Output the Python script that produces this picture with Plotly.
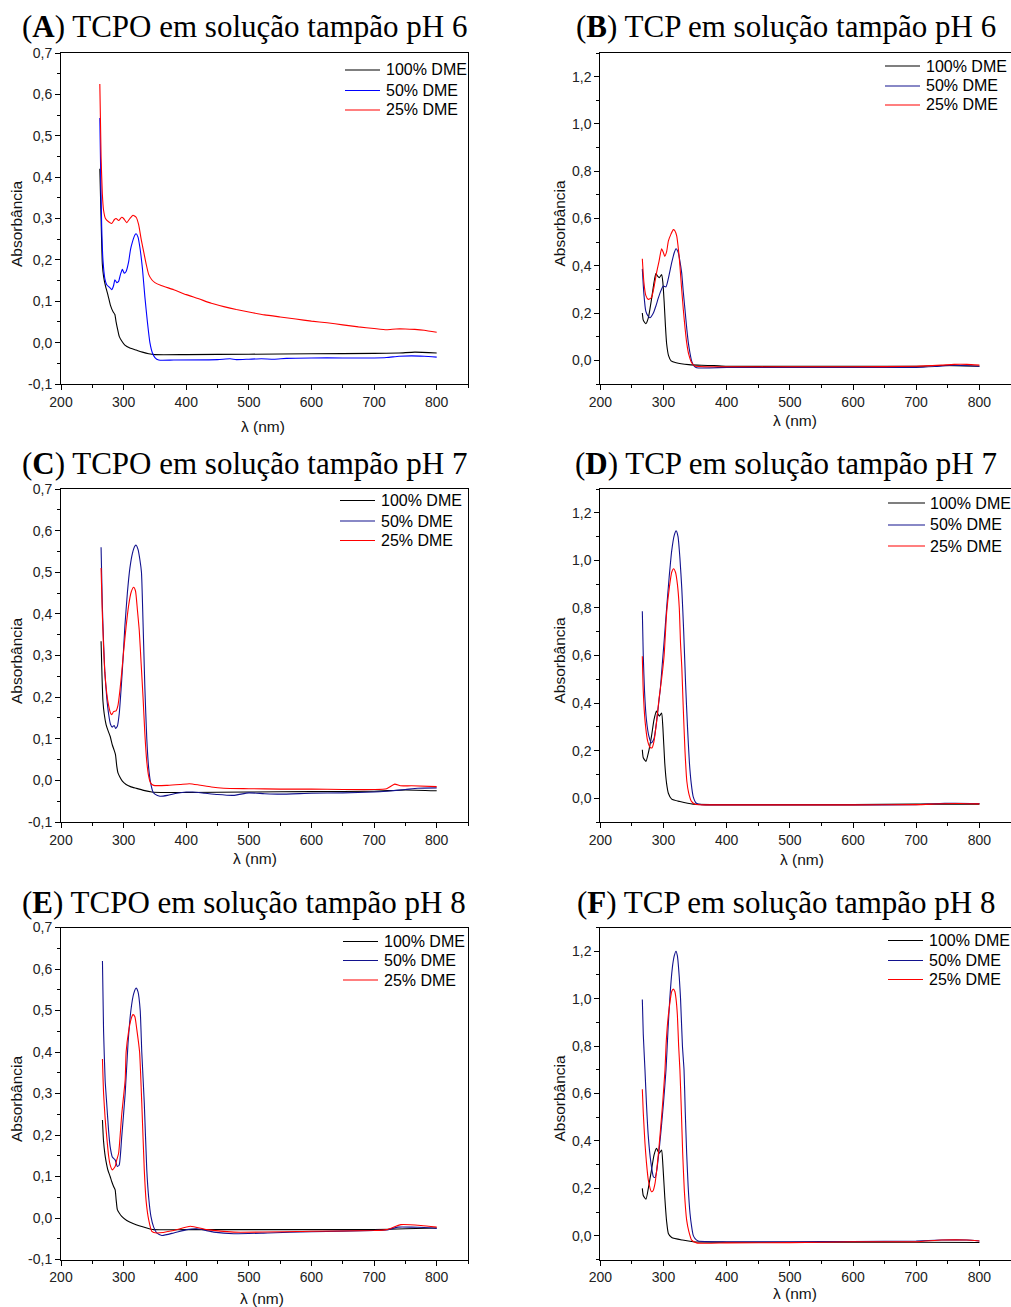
import plotly.graph_objects as go

W, H = 1011, 1307

# ---------------- text / categories ----------------
series_names = ["100% DME", "50% DME", "25% DME"]
panel_letters = ["A", "B", "C", "D", "E", "F"]
panel_titles = [
    "TCPO em solução tampão pH 6",
    "TCP em solução tampão pH 6",
    "TCPO em solução tampão pH 7",
    "TCP em solução tampão pH 7",
    "TCPO em solução tampão pH 8",
    "TCP em solução tampão pH 8",
]
x_title = "λ (nm)"
y_title = "Absorbância"

x_tick_vals = [200, 300, 400, 500, 600, 700, 800]
x_tick_text = ["200", "300", "400", "500", "600", "700", "800"]
y_tick_vals_tcpo = [-0.1, 0.0, 0.1, 0.2, 0.3, 0.4, 0.5, 0.6, 0.7]
y_tick_text_tcpo = ["-0,1", "0,0", "0,1", "0,2", "0,3", "0,4", "0,5", "0,6", "0,7"]
y_tick_vals_tcp = [0.0, 0.2, 0.4, 0.6, 0.8, 1.0, 1.2]
y_tick_text_tcp = ["0,0", "0,2", "0,4", "0,6", "0,8", "1,0", "1,2"]

# ---------------- data ----------------
# Panel A  (TCPO pH 6)
A_wl_100 = [262, 264, 266, 268, 271, 275, 279, 283, 286, 288, 290, 293, 297, 302, 310, 320, 330, 340, 350, 400, 500, 600, 700, 740, 765, 800]
A_ab_100 = [0.42, 0.30, 0.19, 0.16, 0.137, 0.115, 0.09, 0.075, 0.068, 0.05, 0.035, 0.015, 0.004, -0.006, -0.013, -0.018, -0.023, -0.027, -0.029, -0.029, -0.028, -0.027, -0.026, -0.025, -0.023, -0.025]
A_wl_50 = [262, 263.5, 265, 267, 270, 273, 278, 281, 284, 286, 289, 292, 295, 298, 301, 304, 308, 311, 314, 318, 320, 323, 326, 330, 334, 338, 342, 346, 350, 356, 380, 450, 470, 480, 500, 520, 540, 560, 600, 650, 700, 720, 740, 760, 780, 800]
A_ab_50 = [0.543, 0.40, 0.28, 0.20, 0.155, 0.14, 0.133, 0.128, 0.138, 0.152, 0.145, 0.148, 0.165, 0.177, 0.168, 0.172, 0.195, 0.225, 0.243, 0.26, 0.263, 0.255, 0.23, 0.18, 0.11, 0.05, 0.0, -0.025, -0.036, -0.042, -0.042, -0.041, -0.039, -0.041, -0.040, -0.039, -0.040, -0.038, -0.037, -0.037, -0.037, -0.036, -0.033, -0.032, -0.033, -0.035]
A_wl_25 = [262, 264, 266, 268, 271, 276, 281, 285, 288, 292, 297, 300, 305, 310, 315, 320, 324, 328, 332, 336, 340, 345, 350, 360, 380, 400, 420, 440, 460, 480, 500, 525, 550, 575, 600, 625, 650, 675, 700, 720, 735, 750, 765, 780, 800]
A_ab_25 = [0.625, 0.45, 0.36, 0.32, 0.30, 0.292, 0.288, 0.297, 0.30, 0.295, 0.303, 0.30, 0.29, 0.30, 0.308, 0.303, 0.285, 0.25, 0.22, 0.19, 0.165, 0.152, 0.145, 0.138, 0.128, 0.116, 0.106, 0.095, 0.087, 0.08, 0.074, 0.067, 0.062, 0.057, 0.052, 0.048, 0.043, 0.038, 0.034, 0.031, 0.033, 0.033, 0.032, 0.030, 0.025]

# Panel B  (TCP pH 6)
B_wl_100 = [266.5, 268, 272, 276, 281, 285, 288, 291, 293.5, 297, 299, 301, 303, 305, 308, 312, 320, 340, 360, 380, 400, 500, 600, 700, 740, 800]
B_ab_100 = [0.20, 0.17, 0.155, 0.18, 0.258, 0.33, 0.367, 0.355, 0.35, 0.363, 0.33, 0.25, 0.15, 0.07, 0.02, -0.002, -0.01, -0.018, -0.021, -0.022, -0.025, -0.025, -0.025, -0.025, -0.022, -0.025]
B_wl_50 = [266.5, 269, 272, 275, 278.6, 284, 288, 292, 296, 299.7, 304, 308, 313, 317, 319.8, 323.5, 326, 328.8, 331, 334, 337, 339.3, 342, 344.6, 348, 352.5, 400, 500, 600, 700, 730, 760, 800]
B_ab_50 = [0.387, 0.28, 0.208, 0.19, 0.18, 0.20, 0.23, 0.265, 0.295, 0.314, 0.311, 0.35, 0.413, 0.455, 0.472, 0.455, 0.42, 0.37, 0.30, 0.215, 0.13, 0.075, 0.03, -0.003, -0.022, -0.031, -0.03, -0.03, -0.03, -0.03, -0.026, -0.021, -0.025]
B_wl_25 = [266.5, 269, 272, 276, 281, 285, 289, 293, 297, 300, 302, 305, 307.7, 312, 315.6, 318, 321, 324, 326, 328.5, 331.4, 334, 336.7, 340, 344.6, 350, 400, 500, 600, 700, 740, 760, 780, 800]
B_ab_25 = [0.43, 0.33, 0.275, 0.258, 0.265, 0.31, 0.37, 0.42, 0.472, 0.455, 0.44, 0.46, 0.504, 0.535, 0.553, 0.548, 0.525, 0.46, 0.40, 0.31, 0.215, 0.14, 0.075, 0.025, -0.01, -0.024, -0.027, -0.027, -0.027, -0.025, -0.02, -0.017, -0.017, -0.02]

# Panel C  (TCPO pH 7)
C_wl_100 = [264, 265.5, 267, 269, 272, 275, 278.5, 282, 285, 287, 289, 291, 294, 298, 304, 311, 320, 332, 345, 360, 400, 500, 600, 700, 750, 800]
C_ab_100 = [0.334, 0.25, 0.19, 0.16, 0.134, 0.12, 0.106, 0.085, 0.072, 0.062, 0.035, 0.018, 0.008, -0.002, -0.01, -0.015, -0.019, -0.024, -0.028, -0.029, -0.029, -0.028, -0.027, -0.026, -0.023, -0.025]
C_wl_50 = [264, 266, 268, 270, 273, 276, 279, 282, 285, 287, 290, 293, 296, 299, 302, 306, 310, 314, 318, 320, 323, 326, 328.5, 331, 334, 337, 340, 343, 347, 350, 358, 370, 385, 400, 410, 430, 450, 475, 500, 525, 550, 600, 650, 700, 720, 750, 770, 800]
C_ab_50 = [0.56, 0.42, 0.33, 0.26, 0.20, 0.16, 0.135, 0.128, 0.132, 0.125, 0.13, 0.16, 0.22, 0.29, 0.37, 0.45, 0.51, 0.545, 0.563, 0.565, 0.555, 0.53, 0.50, 0.38, 0.22, 0.10, 0.03, -0.005, -0.028, -0.033, -0.038, -0.036, -0.031, -0.028, -0.028, -0.031, -0.034, -0.036, -0.030, -0.032, -0.033, -0.031, -0.030, -0.028, -0.026, -0.022, -0.019, -0.018]
C_wl_25 = [264, 266, 268, 270, 273, 276, 279, 281, 284, 288, 291, 294, 297, 300, 304, 308, 312, 316, 319, 322, 325, 328, 331, 334, 337, 340, 343, 348, 370, 390, 405, 420, 440, 460, 500, 550, 600, 650, 700, 720, 733, 742, 760, 800]
C_ab_25 = [0.51, 0.40, 0.32, 0.26, 0.21, 0.18, 0.162, 0.158, 0.165, 0.167, 0.18, 0.215, 0.26, 0.31, 0.37, 0.42, 0.452, 0.464, 0.455, 0.41, 0.36, 0.28, 0.20, 0.11, 0.045, 0.01, -0.006, -0.012, -0.012, -0.01, -0.008, -0.011, -0.016, -0.019, -0.020, -0.021, -0.021, -0.022, -0.022, -0.020, -0.009, -0.013, -0.013, -0.015]

# Panel D  (TCP pH 7)
D_wl_100 = [266.5, 268, 272.3, 276, 281, 285, 289, 291, 293.4, 297, 299, 302, 305, 307.7, 313, 326, 347, 400, 500, 600, 700, 800]
D_ab_100 = [0.204, 0.17, 0.155, 0.19, 0.26, 0.33, 0.366, 0.355, 0.345, 0.358, 0.30, 0.148, 0.06, 0.021, -0.004, -0.014, -0.025, -0.027, -0.027, -0.027, -0.025, -0.025]
D_wl_50 = [266.5, 268, 270, 273, 277, 281, 285, 289, 292, 295, 298, 301, 305, 309, 313, 317, 320, 323, 326, 329, 332, 335, 338, 341, 344, 347, 352, 360, 400, 500, 600, 700, 730, 760, 800]
D_ab_50 = [0.786, 0.60, 0.45, 0.33, 0.26, 0.232, 0.25, 0.32, 0.39, 0.46, 0.56, 0.66, 0.80, 0.93, 1.04, 1.105, 1.124, 1.10, 1.01, 0.88, 0.70, 0.48, 0.30, 0.15, 0.06, 0.007, -0.021, -0.027, -0.028, -0.028, -0.028, -0.027, -0.023, -0.021, -0.022]
D_wl_25 = [266.5, 268, 271, 275, 279, 282, 285, 289, 293, 297, 301, 305, 309, 313, 316, 319, 322, 325, 327, 329, 331, 334, 337, 340, 344, 350, 400, 500, 600, 700, 740, 770, 800]
D_ab_25 = [0.597, 0.45, 0.32, 0.24, 0.213, 0.212, 0.24, 0.32, 0.42, 0.50, 0.60, 0.78, 0.88, 0.95, 0.965, 0.95, 0.90, 0.80, 0.65, 0.55, 0.40, 0.20, 0.07, 0.02, -0.012, -0.025, -0.028, -0.028, -0.028, -0.027, -0.023, -0.022, -0.024]

# Panel E  (TCPO pH 8)
E_wl_100 = [266.2, 267.8, 270, 272, 275, 278.5, 281, 284, 286.5, 288, 290, 293, 297, 305, 316, 337, 348, 400, 500, 600, 700, 750, 800]
E_ab_100 = [0.236, 0.188, 0.155, 0.136, 0.115, 0.10, 0.088, 0.076, 0.068, 0.045, 0.02, 0.012, 0.004, -0.006, -0.014, -0.024, -0.028, -0.028, -0.028, -0.028, -0.028, -0.026, -0.024]
E_wl_50 = [266.2, 268, 270.5, 273, 276, 278.5, 282, 286.5, 290, 293, 297, 302.5, 307, 311.6, 316, 320, 323, 326.5, 329, 333, 337, 340, 343.6, 348, 353, 361, 380, 401, 417, 444, 476, 530, 600, 700, 720, 737.6, 760, 780, 800]
E_ab_50 = [0.619, 0.45, 0.332, 0.276, 0.21, 0.172, 0.147, 0.14, 0.124, 0.128, 0.196, 0.30, 0.42, 0.50, 0.54, 0.554, 0.545, 0.50, 0.40, 0.277, 0.116, 0.05, 0.004, -0.022, -0.036, -0.042, -0.036, -0.028, -0.026, -0.034, -0.038, -0.036, -0.033, -0.030, -0.029, -0.022, -0.022, -0.023, -0.025]
E_wl_25 = [266.2, 268, 270.5, 273, 276, 278.5, 282, 286.5, 289, 292, 297, 302.5, 304, 308, 312, 315, 318, 321, 325.5, 329, 333, 336, 340, 345, 353, 380, 406.6, 433, 476, 600, 700, 720, 743, 775, 800]
E_ab_25 = [0.383, 0.30, 0.24, 0.196, 0.15, 0.128, 0.116, 0.124, 0.14, 0.156, 0.25, 0.333, 0.40, 0.45, 0.48, 0.49, 0.485, 0.455, 0.40, 0.277, 0.116, 0.04, -0.004, -0.032, -0.036, -0.03, -0.02, -0.028, -0.034, -0.032, -0.030, -0.028, -0.016, -0.018, -0.022]

# Panel F  (TCP pH 8)
F_wl_100 = [266.5, 268, 272.3, 276, 281, 285, 289, 291, 293.4, 297, 299, 302, 305, 307.7, 313, 330, 347, 400, 500, 600, 700, 800]
F_ab_100 = [0.20, 0.17, 0.154, 0.20, 0.277, 0.34, 0.369, 0.358, 0.348, 0.362, 0.30, 0.165, 0.06, 0.01, -0.007, -0.018, -0.025, -0.027, -0.027, -0.027, -0.027, -0.028]
F_wl_50 = [266.5, 268, 270.7, 273, 276, 280, 284, 286.6, 289, 292, 296, 300, 304, 307, 310, 314, 317, 319.8, 322, 325, 327, 330, 332.5, 334.5, 336.7, 339, 342, 344.5, 347, 350, 355, 400, 500, 600, 700, 740, 780, 800]
F_ab_50 = [0.996, 0.85, 0.70, 0.56, 0.418, 0.31, 0.249, 0.246, 0.27, 0.334, 0.44, 0.56, 0.70, 0.86, 1.00, 1.13, 1.18, 1.20, 1.18, 1.09, 1.00, 0.80, 0.70, 0.52, 0.348, 0.21, 0.094, 0.04, 0.003, -0.012, -0.022, -0.025, -0.025, -0.024, -0.022, -0.018, -0.018, -0.022]
F_wl_25 = [266.5, 268, 270.7, 273, 276, 281, 283.5, 286.6, 289, 292, 295, 298.7, 302.4, 304, 306.6, 310, 313, 315.6, 318, 319.8, 322, 324, 326, 328, 330.4, 333, 336.7, 340, 344.6, 352.5, 400, 500, 600, 700, 740, 780, 800]
F_ab_25 = [0.618, 0.52, 0.39, 0.31, 0.235, 0.186, 0.19, 0.221, 0.27, 0.348, 0.44, 0.559, 0.70, 0.80, 0.90, 0.98, 1.03, 1.04, 1.03, 1.00, 0.93, 0.80, 0.70, 0.55, 0.348, 0.19, 0.066, 0.02, -0.018, -0.03, -0.03, -0.029, -0.025, -0.025, -0.018, -0.018, -0.022]

panel_series = [
    [(A_wl_100, A_ab_100), (A_wl_50, A_ab_50), (A_wl_25, A_ab_25)],
    [(B_wl_100, B_ab_100), (B_wl_50, B_ab_50), (B_wl_25, B_ab_25)],
    [(C_wl_100, C_ab_100), (C_wl_50, C_ab_50), (C_wl_25, C_ab_25)],
    [(D_wl_100, D_ab_100), (D_wl_50, D_ab_50), (D_wl_25, D_ab_25)],
    [(E_wl_100, E_ab_100), (E_wl_50, E_ab_50), (E_wl_25, E_ab_25)],
    [(F_wl_100, F_ab_100), (F_wl_50, F_ab_50), (F_wl_25, F_ab_25)],
]

# ---------------- styles / layout geometry (pixels) ----------------
colors_A = ["#000000", "#0000FF", "#FF0000"]
colors_other = ["#000000", "#12128E", "#FF0000"]

col_x = [(61.0, 468.0), (600.3, 1011.0)]
row_y = [(53.0, 384.0), (489.0, 822.0), (927.5, 1259.5)]

title_center_x = [244, 786]
title_y = [27, 463, 902]
ytitle_x = [16.5, 559]
xtitle_pos = [(262.5, 426), (795, 420), (255, 858.5), (802, 859), (262, 1298), (795, 1293)]
legend_geo = [  # (line x0, line x1, text x, row ys)
    (345, 380, 384, [70, 90.5, 110]),
    (885, 920, 924, [66, 86, 105]),
    (340, 375, 379, [500.5, 521, 540.5]),
    (888, 925, 928, [503, 525, 546]),
    (343, 378, 382, [941.5, 960.5, 980]),
    (888, 923, 927, [940.5, 960.5, 979.5]),
]

SANS = "Liberation Sans, Arial, sans-serif"
SERIF = "Liberation Serif, Times New Roman, serif"

def px_x(v):
    return v / W

def px_y(v):
    return 1 - v / H

fig = go.Figure()
layout = dict(
    width=W, height=H, autosize=False,
    margin=dict(l=0, r=0, t=0, b=0, pad=0),
    paper_bgcolor="white", plot_bgcolor="white",
    showlegend=False, template="none",
)
annotations = []
shapes = []

for p in range(6):
    r, c = divmod(p, 2)
    n = p + 1
    xs = "" if n == 1 else str(n)
    xname, yname = "x" + xs, "y" + xs
    colors = colors_A if p == 0 else colors_other
    tcpo = (c == 0)
    yr = [-0.1, 0.7] if tcpo else [-0.1, 1.3]
    ytv = y_tick_vals_tcpo if tcpo else y_tick_vals_tcp
    ytt = y_tick_text_tcpo if tcpo else y_tick_text_tcp
    ymin_d = 0.05 if tcpo else 0.1

    for s in range(3):
        wl, ab = panel_series[p][s]
        fig.add_trace(go.Scatter(
            x=wl, y=ab, mode="lines", name=series_names[s],
            line=dict(color=colors[s], width=1.1, shape="spline", smoothing=0.5),
            xaxis=xname, yaxis=yname, showlegend=False,
        ))

    xd = [px_x(col_x[c][0]), px_x(col_x[c][1])]
    yd = [px_y(row_y[r][1]), px_y(row_y[r][0])]
    layout["xaxis" + xs] = dict(
        domain=xd, range=[200, 850], anchor=yname,
        showline=True, linecolor="#000", linewidth=1, mirror=True,
        ticks="outside", ticklen=5, tickwidth=1, tickcolor="#000",
        tickvals=x_tick_vals, ticktext=x_tick_text,
        minor=dict(ticks="outside", dtick=50, tick0=200, ticklen=3, tickwidth=1, tickcolor="#000", showgrid=False),
        showgrid=False, zeroline=False, automargin=False,
        tickfont=dict(family=SANS, size=14, color="#222"),
    )
    layout["yaxis" + xs] = dict(
        domain=yd, range=yr, anchor=xname,
        showline=True, linecolor="#000", linewidth=1, mirror=True,
        ticks="outside", ticklen=5, tickwidth=1, tickcolor="#000",
        tickvals=ytv, ticktext=ytt,
        minor=dict(ticks="outside", dtick=ymin_d, tick0=-0.1, ticklen=3, tickwidth=1, tickcolor="#000", showgrid=False),
        showgrid=False, zeroline=False, automargin=False,
        tickfont=dict(family=SANS, size=14, color="#222"),
    )
    # inward ticks on top and right edges
    ox = str(n + 6)
    layout["xaxis" + ox] = dict(
        overlaying=xname, side="top", anchor=yname, range=[200, 850],
        ticks="inside", ticklen=3, tickwidth=1, tickcolor="#000", dtick=50, tick0=200,
        showticklabels=False, showline=False, showgrid=False, zeroline=False, automargin=False,
    )
    layout["yaxis" + ox] = dict(
        overlaying=yname, side="right", anchor=xname, range=yr,
        ticks="inside", ticklen=3, tickwidth=1, tickcolor="#000", dtick=ymin_d, tick0=-0.1,
        showticklabels=False, showline=False, showgrid=False, zeroline=False, automargin=False,
    )

    # panel title
    annotations.append(dict(
        text="(<b>" + panel_letters[p] + "</b>) " + panel_titles[p],
        x=px_x(title_center_x[c]), y=px_y(title_y[r]), xref="paper", yref="paper",
        xanchor="center", yanchor="middle", showarrow=False,
        font=dict(family=SERIF, size=31, color="#000"),
    ))
    # axis titles
    annotations.append(dict(
        text=y_title, textangle=-90,
        x=px_x(ytitle_x[c]), y=px_y((row_y[r][0] + row_y[r][1]) / 2 + 5),
        xref="paper", yref="paper", xanchor="center", yanchor="middle", showarrow=False,
        font=dict(family=SANS, size=15.5, color="#111"),
    ))
    annotations.append(dict(
        text=x_title, x=px_x(xtitle_pos[p][0]), y=px_y(xtitle_pos[p][1]),
        xref="paper", yref="paper", xanchor="center", yanchor="middle", showarrow=False,
        font=dict(family=SANS, size=15.5, color="#111"),
    ))
    # legend
    lx0, lx1, tx, rys = legend_geo[p]
    for s in range(3):
        shapes.append(dict(
            type="line", xref="paper", yref="paper",
            x0=px_x(lx0), x1=px_x(lx1), y0=px_y(rys[s]), y1=px_y(rys[s]),
            line=dict(color=colors[s], width=1.1),
        ))
        annotations.append(dict(
            text=series_names[s], x=px_x(tx), y=px_y(rys[s]),
            xref="paper", yref="paper", xanchor="left", yanchor="middle", showarrow=False,
            font=dict(family=SANS, size=16, color="#000"),
        ))

layout["annotations"] = annotations
layout["shapes"] = shapes
fig.update_layout(**layout)
fig.write_html("out.html")
